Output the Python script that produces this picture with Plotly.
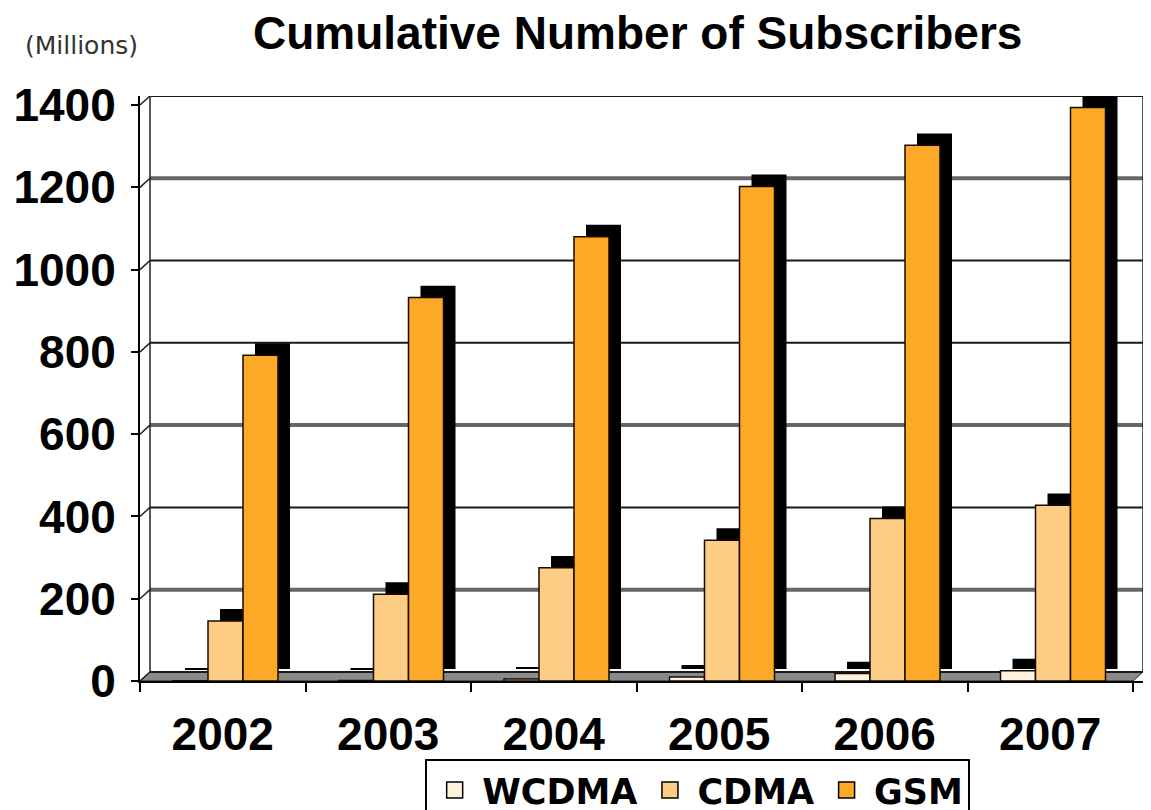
import plotly.graph_objects as go

years = ["2002", "2003", "2004", "2005", "2006", "2007"]
wcdma = [0.5, 1, 5, 10, 18, 25]
cdma = [146, 211, 275, 342, 395, 427]
gsm = [792, 932, 1080, 1202, 1302, 1394]
series_names = ["WCDMA", "CDMA", "GSM"]
series_values = [wcdma, cdma, gsm]
series_colors = ["#FFF3DE", "#FDCD85", "#FBA927"]
ytick_vals = [0, 200, 400, 600, 800, 1000, 1200, 1400]

# geometry (category units / data units)
cat_px = 165.5
bar_w = 35 / cat_px
first_off = 33 / cat_px - 0.5
depth_x = 12 / cat_px
depth_y = 29
wall_dx = 10 / cat_px
wall_dy = 22
y_top = 1422
x_right = 5.5 + wall_dx

FONT = "Liberation Sans, Arial, sans-serif"

fig = go.Figure()
for i, (name, vals, col) in enumerate(zip(series_names, series_values, series_colors)):
    off = first_off + i * bar_w
    fig.add_trace(go.Bar(
        x=years, y=vals, base=depth_y, offset=off + depth_x, width=bar_w,
        marker=dict(color="#000000", line=dict(width=0)),
        showlegend=False, hoverinfo="skip"))
    fig.add_trace(go.Bar(
        x=years, y=vals, offset=off, width=bar_w, name=name, showlegend=False,
        marker=dict(color=col, line=dict(color="#1a0a00", width=1.5))))

# legend entries (square swatches)
for name, col in zip(series_names, series_colors):
    fig.add_trace(go.Scatter(
        x=[None], y=[None], mode="markers", name=name,
        marker=dict(symbol="square", size=22, color=col, line=dict(color="black", width=1.5))))

shapes = []
# floor
shapes.append(dict(type="path", xref="x", yref="y", layer="below",
                   path=f"M -0.5,0 L 5.5,0 L {x_right},{wall_dy} L {-0.5 + wall_dx},{wall_dy} Z",
                   fillcolor="#8a8a8a", line=dict(color="#222", width=1)))
# back wall gridlines + left wall connectors
for v in ytick_vals:
    heavy = v in (200, 600, 1200)
    shapes.append(dict(type="line", xref="x", yref="y", layer="below",
                       x0=-0.5 + wall_dx, x1=x_right, y0=v + wall_dy, y1=v + wall_dy,
                       line=dict(color="#666666" if heavy else "#1a1a1a",
                                 width=4 if heavy else 2)))
    shapes.append(dict(type="line", xref="x", yref="y", layer="below",
                       x0=-0.5, x1=-0.5 + wall_dx, y0=v, y1=v + wall_dy,
                       line=dict(color="#222", width=1.5)))
# back wall edges
shapes.append(dict(type="line", xref="x", yref="y", layer="below",
                   x0=-0.5 + wall_dx, x1=-0.5 + wall_dx, y0=wall_dy, y1=y_top,
                   line=dict(color="#222", width=1.5)))
shapes.append(dict(type="line", xref="x", yref="y", layer="below",
                   x0=x_right, x1=x_right, y0=wall_dy, y1=y_top,
                   line=dict(color="#222", width=1.5)))

fig.update_layout(
    width=1151, height=810,
    margin=dict(l=132, r=16, t=88, b=137, autoexpand=False),
    paper_bgcolor="white", plot_bgcolor="white",
    barmode="overlay",
    shapes=shapes,
    font=dict(family=FONT, color="black"),
    showlegend=True,
    legend=dict(orientation="h", x=0.556, xanchor="center", y=-0.133, yanchor="top",
                bordercolor="black", borderwidth=2, bgcolor="white",
                font=dict(size=35, family="DejaVu Sans, Verdana, sans-serif", weight="bold"),
                itemwidth=45, tracegroupgap=0),
    annotations=[
        dict(text="<b>Cumulative Number of Subscribers</b>", xref="paper", yref="paper",
             x=0.4965, y=1.1077, xanchor="center", yanchor="middle", showarrow=False,
             font=dict(size=46, family=FONT)),
        dict(text="(Millions)", xref="paper", yref="paper",
             x=-0.0588, y=1.087, xanchor="center", yanchor="middle", showarrow=False,
             font=dict(size=25, family="DejaVu Sans, Verdana, sans-serif", color="#333")),
    ],
)
fig.update_xaxes(
    type="category", range=[-0.5, x_right], showgrid=False, automargin=False,
    showline=True, linecolor="black", linewidth=2,
    ticks="outside", tickson="boundaries", ticklen=9, tickcolor="black", tickwidth=2,
    tickfont=dict(size=46, family=FONT, weight="bold"),
    ticklabelstandoff=12,
)
fig.update_yaxes(
    range=[0, y_top], showgrid=False, zeroline=False, automargin=False,
    showline=True, linecolor="black", linewidth=2,
    tickvals=ytick_vals, ticktext=[str(v) for v in ytick_vals],
    ticks="outside", ticklen=7, tickcolor="black", tickwidth=2,
    tickfont=dict(size=46, family=FONT, weight="bold"),
    ticklabelstandoff=6,
)

fig.write_html("out.html")
